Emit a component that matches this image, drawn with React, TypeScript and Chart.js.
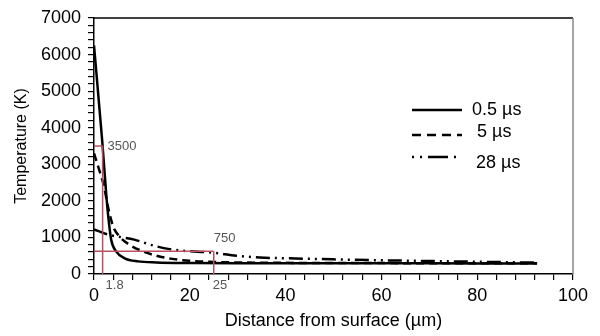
import React, { useEffect, useRef } from "react";
import { Chart, registerables } from "chart.js";

Chart.register(...registerables);

// Distance from surface (µm) and temperature (K)
const seriesLabels = ["0.5 µs", "5 µs", "28 µs"];

const solidX = [0, 1.7, 2.6, 3.05, 3.6, 4.65, 6.4, 9.2, 13, 20, 30, 40, 60, 80, 92.5];
const solidY = [6250, 3660, 2100, 1480, 930, 610, 430, 345, 315, 300, 295, 295, 292, 290, 288];

const dashX = [0, 1.2, 2.1, 2.9, 4, 5.3, 7.4, 10.2, 13, 16, 20, 25, 30, 40, 60, 80, 92.5];
const dashY = [3300, 2800, 2390, 1850, 1300, 1030, 800, 620, 500, 420, 360, 330, 315, 305, 298, 295, 292];

const dotX = [0, 2.9, 8.4, 12.6, 15.8, 20, 24.8, 29.7, 34.6, 40, 50, 60, 70, 80, 92.5];
const dotY = [1220, 1080, 940, 770, 680, 620, 585, 500, 450, 430, 400, 375, 355, 335, 310];

// Red guide lines
const guide1X = 1.8;
const guide1Y = 3500;
const guide2X = 25;
const guide2Y = 620;
const guideLabels = ["3500", "750", "1.8", "25"];

const xTicksMajor = [0, 20, 40, 60, 80, 100];
const yTicksMajor = [0, 1000, 2000, 3000, 4000, 5000, 6000, 7000];

const toPts = (xs: number[], ys: number[]) => xs.map((x, i) => ({ x, y: ys[i] }));

const FONT = "'Liberation Sans', Arial, sans-serif";
const RED = "rgb(185, 80, 95)";

export default function App() {
  const ref = useRef<HTMLCanvasElement | null>(null);

  useEffect(() => {
    document.body.style.margin = "0";
    const canvas = ref.current;
    if (!canvas) return;

    const overlay = {
      id: "overlay",
      afterDatasetsDraw(chart: any) {
        const { ctx, chartArea, scales } = chart;
        const xs = scales.x;
        const ys = scales.y;
        ctx.save();
        // frame: top black, right gray
        ctx.lineWidth = 1.5;
        ctx.strokeStyle = "#000";
        ctx.beginPath();
        ctx.moveTo(chartArea.left, chartArea.top);
        ctx.lineTo(chartArea.right, chartArea.top);
        ctx.stroke();
        ctx.strokeStyle = "#888";
        ctx.beginPath();
        ctx.moveTo(chartArea.right, chartArea.top);
        ctx.lineTo(chartArea.right, chartArea.bottom);
        ctx.stroke();

        // guide labels
        ctx.fillStyle = "#555";
        ctx.font = `13px ${FONT}`;
        ctx.textAlign = "left";
        ctx.textBaseline = "middle";
        ctx.fillText(guideLabels[0], xs.getPixelForValue(guide1X) + 5, ys.getPixelForValue(guide1Y));
        ctx.fillText(guideLabels[1], xs.getPixelForValue(guide2X), ys.getPixelForValue(guide2Y) - 13);
        ctx.fillText(guideLabels[2], xs.getPixelForValue(guide1X) + 3, chartArea.bottom + 11);
        ctx.fillText(guideLabels[3], xs.getPixelForValue(guide2X) - 1, chartArea.bottom + 11);

        // legend
        const lx0 = 412;
        const lx1 = 462;
        const rows = [
          { y: 110, ty: 110, tx: 472, dash: [] as number[] },
          { y: 135, ty: 132, tx: 477, dash: [9, 6] },
          { y: 157, ty: 163, tx: 476, dash: [2, 6, 2, 6, 18, 0] },
        ];
        ctx.font = `18px ${FONT}`;
        ctx.fillStyle = "#000";
        rows.forEach((r, i) => {
          ctx.strokeStyle = "#000";
          ctx.lineWidth = 2.5;
          ctx.setLineDash(r.dash);
          ctx.beginPath();
          ctx.moveTo(lx0, r.y);
          ctx.lineTo(lx1, r.y);
          ctx.stroke();
          ctx.setLineDash([]);
          ctx.fillText(seriesLabels[i], r.tx, r.ty);
        });
        ctx.restore();
      },
    };

    const guide = (data: { x: number; y: number }[], label: string) => ({
      label,
      data,
      borderColor: RED,
      borderWidth: 1.5,
      pointRadius: 0,
    });

    const chart = new Chart(canvas, {
      type: "line",
      data: {
        datasets: [
          guide([{ x: guide1X, y: 0 }, { x: guide1X, y: guide1Y }], "g1v"),
          guide([{ x: 0, y: guide1Y }, { x: guide1X, y: guide1Y }], "g1h"),
          guide([{ x: guide2X, y: 0 }, { x: guide2X, y: guide2Y }], "g2v"),
          guide([{ x: 0, y: guide2Y }, { x: guide2X, y: guide2Y }], "g2h"),
          {
            label: seriesLabels[0],
            data: toPts(solidX, solidY),
            borderColor: "#000",
            borderWidth: 2.5,
            pointRadius: 0,
            cubicInterpolationMode: "monotone",
          },
          {
            label: seriesLabels[1],
            data: toPts(dashX, dashY),
            borderColor: "#000",
            borderWidth: 2.5,
            borderDash: [8, 5],
            pointRadius: 0,
            cubicInterpolationMode: "monotone",
          },
          {
            label: seriesLabels[2],
            data: toPts(dotX, dotY),
            borderColor: "#000",
            borderWidth: 2.5,
            borderDash: [14, 5, 2, 5, 2, 5],
            pointRadius: 0,
            cubicInterpolationMode: "monotone",
          },
        ],
      },
      options: {
        animation: false,
        responsive: false,
        layout: { padding: { top: 18, right: 27, left: 12, bottom: 4 } },
        plugins: { legend: { display: false }, tooltip: { enabled: false } },
        scales: {
          x: {
            type: "linear",
            min: 0,
            max: 100,
            afterFit: (s: any) => {
              s.height = 58;
            },
            afterBuildTicks: (s: any) => {
              const t = [];
              for (let v = 0; v <= 100; v += 4) t.push({ value: v });
              for (const m of xTicksMajor) if (!t.find((k) => k.value === m)) t.push({ value: m });
              t.sort((a, b) => a.value - b.value);
              s.ticks = t;
            },
            border: { display: true, color: "#000", width: 1.5 },
            grid: { display: true, drawOnChartArea: false, drawTicks: true, tickLength: 6, color: "#000", lineWidth: 1.2 },
            ticks: {
              autoSkip: false,
              maxRotation: 0,
              padding: 5,
              color: "#000",
              font: { family: FONT, size: 18 },
              callback: (v: any) => (xTicksMajor.includes(Number(v)) ? String(v) : ""),
            },
            title: {
              display: true,
              text: "Distance from surface (µm)",
              color: "#000",
              font: { family: FONT, size: 18 },
              padding: { top: 0, bottom: 0 },
            },
          },
          y: {
            type: "linear",
            min: 0,
            max: 7000,
            afterFit: (s: any) => {
              s.width = 82;
            },
            afterBuildTicks: (s: any) => {
              const t = [];
              for (let v = 0; v <= 7000; v += 200) t.push({ value: v });
              s.ticks = t;
            },
            border: { display: true, color: "#000", width: 1.5 },
            grid: { display: true, drawOnChartArea: false, drawTicks: true, tickLength: 6, color: "#000", lineWidth: 1.2 },
            ticks: {
              autoSkip: false,
              padding: 7,
              color: "#000",
              font: { family: FONT, size: 18 },
              callback: (v: any) => (yTicksMajor.includes(Number(v)) ? String(v) : ""),
            },
            title: {
              display: true,
              text: "Temperature (K)",
              color: "#000",
              font: { family: FONT, size: 16 },
              padding: { top: 0, bottom: 2 },
            },
          },
        },
      },
      plugins: [overlay],
    } as any);

    return () => chart.destroy();
  }, []);

  return (
    <div style={{ width: 600, height: 336, background: "#fff" }}>
      <canvas ref={ref} width={600} height={336} style={{ display: "block" }} />
    </div>
  );
}
